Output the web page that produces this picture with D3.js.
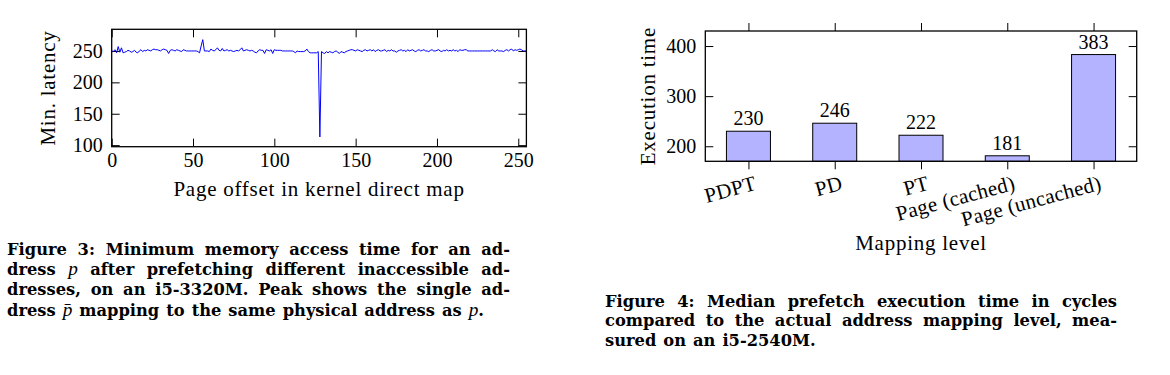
<!DOCTYPE html>
<html><head><meta charset="utf-8">
<script src="https://cdn.jsdelivr.net/npm/d3@7"></script>
<style>html,body{margin:0;padding:0;background:#fff;} svg{display:block;}</style>
</head><body>
<svg id="c" width="1170" height="375"></svg>
<script>
// ---------- data ----------
const latency = [
 250,249,252,247,257,248,255,247,248,249,251,250,248,249,251,248,
 247,250,252,249,251,250,252,251,250,252,253,252,252,251,250,252,
 253,252,251,246,251,252,251,250,252,251,250,249,252,251,250,250,
 250,250,250,250,250,249,247,258,268,250,250,250,249,253,251,250,
 252,255,251,250,254,250,251,252,250,251,250,249,250,251,250,252,
 255,250,251,252,251,250,251,250,248,247,250,252,251,251,246,252,
 251,250,252,246,252,251,251,251,251,250,250,250,250,250,250,250,
 249,247,250,249,249,249,249,250,253,249,247,247,247,247,247,249,
 113,249,247,246,249,247,249,248,247,249,250,248,246,249,248,247,
 249,250,251,252,252,251,250,252,251,250,249,251,252,250,251,252,
 250,252,249,251,252,250,250,251,252,249,251,250,252,250,250,248,
 250,251,252,250,251,249,252,250,251,252,250,249,251,252,250,251,
 252,250,250,249,251,252,250,250,251,252,250,249,251,250,252,250,
 251,250,252,250,251,249,252,251,251,252,252,250,250,250,250,250,
 250,250,250,250,250,250,250,250,250,250,252,250,249,252,250,250,
 250,249,251,252,250,252,253,250,252,251,252,253,252,250,250,250
];
const latencyXTicks = [0, 50, 100, 150, 200, 250];
const latencyYTicks = [100, 150, 200, 250];
const levels = ["PDPT", "PD", "PT", "Page (cached)", "Page (uncached)"];
const execTime = [230, 246, 222, 181, 383];
const execYTicks = [200, 300, 400];
const caption3 = [
 "Figure 3: Minimum memory access time for an ad-",
 "dress *p* after prefetching different inaccessible ad-",
 "dresses, on an i5-3320M. Peak shows the single ad-",
 "dress *p\u0304* mapping to the same physical address as *p*."
];
const caption4 = [
 "Figure 4: Median prefetch execution time in cycles",
 "compared to the actual address mapping level, mea-",
 "sured on an i5-2540M."
];

// ---------- setup ----------
const SERIF = "'Liberation Serif','Times New Roman',serif";
const CAPFONT = "'DejaVu Serif','Liberation Serif',serif";
const FS = 21, NUMFS = 20, LS = 0.75;
const svg = d3.select("#c");

function styleAxis(g) {
  g.select(".domain").remove();
  g.selectAll("line").attr("stroke", "#000").attr("stroke-width", 1);
  g.selectAll("text").attr("font-family", SERIF).attr("font-size", NUMFS).attr("fill", "#000");
}
function label(sel) {
  return sel.attr("font-family", SERIF).attr("font-size", FS).attr("letter-spacing", LS).attr("fill", "#000");
}

// ---------- chart 1: line ----------
(function () {
  const L = 111.7, R = 526.4, T = 29.3, B = 146.7;
  const x = d3.scaleLinear().domain([0, 255]).range([L, R]);
  const y = d3.scaleLinear().domain([97.5, 284.5]).range([B, T]);
  const TK = 8;

  svg.append("g").attr("transform", `translate(0,${B})`)
    .call(d3.axisBottom(x).tickValues(latencyXTicks).tickSizeInner(-TK).tickSizeOuter(0).tickPadding(6))
    .call(styleAxis);
  svg.append("g").attr("transform", `translate(0,${T})`)
    .call(d3.axisTop(x).tickValues(latencyXTicks).tickSizeInner(-TK).tickSizeOuter(0).tickFormat(""))
    .call(styleAxis);
  svg.append("g").attr("transform", `translate(${L},0)`)
    .call(d3.axisLeft(y).tickValues(latencyYTicks).tickSizeInner(-TK).tickSizeOuter(0).tickPadding(9))
    .call(styleAxis);
  svg.append("g").attr("transform", `translate(${R},0)`)
    .call(d3.axisRight(y).tickValues(latencyYTicks).tickSizeInner(-TK).tickSizeOuter(0).tickFormat(""))
    .call(styleAxis);

  const line = d3.line().x((d, i) => x(i)).y(d => y(d));
  svg.append("path").datum(latency).attr("d", line)
    .attr("fill", "none").attr("stroke", "#0000ff").attr("stroke-width", 1).attr("stroke-linejoin", "round");

  svg.append("rect").attr("x", L).attr("y", T).attr("width", R - L).attr("height", B - T)
    .attr("fill", "none").attr("stroke", "#000").attr("stroke-width", 1.3);

  svg.append("text").attr("x", (L + R) / 2).attr("y", 196)
    .attr("text-anchor", "middle").call(label)
    .text("Page offset in kernel direct map");
  svg.append("text").attr("transform", `translate(55,${(T + B) / 2}) rotate(-90)`)
    .attr("text-anchor", "middle").call(label)
    .text("Min. latency");
})();

// ---------- chart 2: bars ----------
(function () {
  const L = 705.3, R = 1136.7, T = 31, B = 161.3;
  const x = d3.scaleLinear().domain([-0.5, levels.length - 0.5]).range([L, R]);
  const y = d3.scaleLinear().domain([170, 430]).range([B, T]);
  const TK = 8, BW = 44;
  const idx = levels.map((d, i) => i);

  svg.append("g").attr("transform", `translate(0,${B})`)
    .call(d3.axisBottom(x).tickValues(idx).tickSizeInner(TK).tickSizeOuter(0).tickFormat(""))
    .call(styleAxis);
  svg.append("g").attr("transform", `translate(0,${T})`)
    .call(d3.axisTop(x).tickValues(idx).tickSizeInner(TK).tickSizeOuter(0).tickFormat(""))
    .call(styleAxis);
  svg.append("g").attr("transform", `translate(${L},0)`)
    .call(d3.axisLeft(y).tickValues(execYTicks).tickSizeInner(-TK).tickSizeOuter(0).tickPadding(9))
    .call(styleAxis);
  svg.append("g").attr("transform", `translate(${R},0)`)
    .call(d3.axisRight(y).tickValues(execYTicks).tickSizeInner(-TK).tickSizeOuter(0).tickFormat(""))
    .call(styleAxis);

  svg.append("g").selectAll("rect").data(execTime).join("rect")
    .attr("x", (d, i) => x(i) - BW / 2).attr("width", BW)
    .attr("y", d => y(d)).attr("height", d => B - y(d))
    .attr("fill", "#b3b3ff").attr("stroke", "#000").attr("stroke-width", 1);

  svg.append("g").selectAll("text").data(execTime).join("text")
    .attr("x", (d, i) => x(i)).attr("y", d => y(d) - 6)
    .attr("text-anchor", "middle").attr("font-family", SERIF).attr("font-size", NUMFS)
    .text(d => d);

  svg.append("g").selectAll("text").data(levels).join("text")
    .attr("transform", (d, i) => `translate(${x(i) + 9},${B + 28}) rotate(-15)`)
    .attr("text-anchor", "end").call(label).attr("letter-spacing", 0.3)
    .text(d => d);

  svg.append("rect").attr("x", L).attr("y", T).attr("width", R - L).attr("height", B - T)
    .attr("fill", "none").attr("stroke", "#000").attr("stroke-width", 1.3);

  svg.append("text").attr("x", (L + R) / 2).attr("y", 250)
    .attr("text-anchor", "middle").call(label)
    .text("Mapping level");
  svg.append("text").attr("transform", `translate(655,${(T + B) / 2}) rotate(-90)`)
    .attr("text-anchor", "middle").call(label)
    .text("Execution time");
})();

// ---------- captions (justified) ----------
function caption(lines, x0, width, y0, lh) {
  const CFS = 16.3;
  lines.forEach((line, li) => {
    const words = line.split(" ");
    const g = svg.append("g");
    const nodes = words.map(w => {
      const t = g.append("text").attr("y", y0 + li * lh)
        .attr("font-family", CAPFONT).attr("font-size", CFS).attr("fill", "#000");
      w.split(/(\*[^*]+\*)/).filter(s => s.length).forEach(s => {
        if (s.startsWith("*")) {
          t.append("tspan").attr("font-family", SERIF).attr("font-size", CFS + 3)
            .attr("font-style", "italic").attr("font-weight", "normal").text(s.slice(1, -1));
        } else {
          t.append("tspan").attr("font-weight", "bold").text(s);
        }
      });
      return t;
    });
    const widths = nodes.map(n => n.node().getComputedTextLength());
    const total = d3.sum(widths);
    const last = li === lines.length - 1;
    const gap = last ? 7 : Math.max(3, (width - total) / (words.length - 1));
    let cx = x0;
    nodes.forEach((n, i) => { n.attr("x", cx); cx += widths[i] + gap; });
  });
}
caption(caption3, 7, 503, 255, 20.2);
caption(caption4, 605, 512, 306.5, 19.8);
</script>
</body></html>
